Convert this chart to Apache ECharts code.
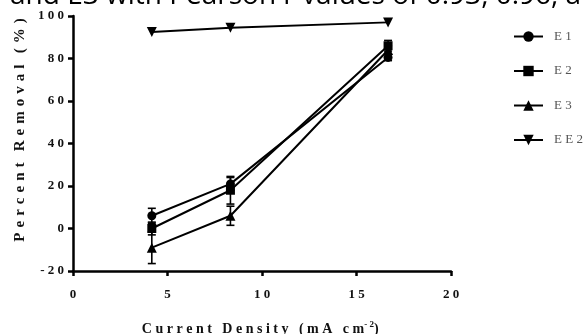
<!DOCTYPE html>
<html>
<head>
<meta charset="utf-8">
<script src="https://cdn.jsdelivr.net/npm/echarts@6/dist/echarts.min.js"></script>
<style>
  html, body { margin: 0; padding: 0; background: #fff; }
  #chart { width: 587px; height: 334px; }
</style>
</head>
<body>
<div id="chart"></div>
<script>
// current density (mA cm-2)
const xValues = [4.17, 8.33, 16.67];
// percent removal, mean and error
const e1 = [6, 21, 80.5];
const e1Err = [3.5, 3, 1.5];
const e2 = [0, 18, 86];
const e2Err = [3, 6.5, 2.5];
const e3 = [-9, 6, 84];
const e3Err = [7.5, 4.5, 2];
const ee2 = [92.5, 94.5, 97];
const seriesNames = ['E1', 'E2', 'E3', 'EE2'];
const xTicks = [0, 5, 10, 15, 20];
const yTicks = [-20, 0, 20, 40, 60, 80, 100];

const spaced = (s, gap = ' ') => String(s).split('').join(gap);
const serif = 'Liberation Serif';

function pts(vals) { return vals.map((v, i) => [xValues[i], v]); }
function errPts(vals, errs) { return vals.map((v, i) => [xValues[i], v - errs[i], v + errs[i]]); }

function errorBar(params, api) {
  const x = api.value(0);
  const lo = api.coord([x, api.value(1)]);
  const hi = api.coord([x, api.value(2)]);
  const w = 4;
  const style = { stroke: '#000', lineWidth: 1.6 };
  return {
    type: 'group',
    children: [
      { type: 'line', shape: { x1: lo[0], y1: lo[1], x2: hi[0], y2: hi[1] }, style },
      { type: 'line', shape: { x1: lo[0] - w, y1: lo[1], x2: lo[0] + w, y2: lo[1] }, style },
      { type: 'line', shape: { x1: hi[0] - w, y1: hi[1], x2: hi[0] + w, y2: hi[1] }, style },
    ],
  };
}

const lineBase = {
  type: 'line',
  color: '#000',
  lineStyle: { color: '#000', width: 2 },
  itemStyle: { color: '#000' },
  symbolSize: 9,
  z: 3,
};

const chart = echarts.init(document.getElementById('chart'));
chart.setOption({
  animation: false,
  graphic: [{
    type: 'text', left: 10, top: -18,
    style: {
      text: 'and E3 with Pearson r values of 0.93, 0.96, a',
      font: '28px "Open Sans"', fill: '#000',
    },
  }, {
    // y axis title, rotated
    type: 'text', x: 20, y: 130, rotation: Math.PI / 2,
    style: {
      text: spaced('Percent', ' \u200A') + '   ' + spaced('Removal', ' \u200A') + '   ' + spaced('(%)', ' \u200A'),
      font: 'bold 15px "Liberation Serif"', fill: '#111',
      align: 'center', verticalAlign: 'middle',
    },
  }],
  grid: { left: 73, right: 136, top: 16, bottom: 63, outerBoundsMode: 'none', containLabel: false },
  legend: {
    orient: 'vertical', left: 508, top: 25, itemGap: 21.5,
    itemWidth: 29, itemHeight: 13,
    data: seriesNames,
    formatter: n => spaced(n),
    textStyle: { fontFamily: serif, fontSize: 13, color: '#555', padding: [0, 0, 0, 6] },
  },
  xAxis: {
    type: 'value', min: 0, max: 20, interval: 5,
    name: 'C u r r e n t   D e n s i t y   ( m A   c m{sup|- 2}) ',
    nameLocation: 'middle', nameGap: 49,
    nameTextStyle: {
      fontFamily: serif, fontWeight: 'bold', fontSize: 14, color: '#111',
      rich: { sup: { fontFamily: serif, fontWeight: 'bold', fontSize: 9, padding: [0, 0, 10, 0] } },
    },
    axisLine: { onZero: false, lineStyle: { color: '#000', width: 2.5 } },
    axisTick: { length: 5, lineStyle: { color: '#000', width: 2.5 } },
    axisLabel: {
      margin: 17, fontFamily: serif, fontWeight: 'bold', fontSize: 13, color: '#111',
      formatter: v => xTicks.includes(v) ? spaced(v) : '',
    },
    splitLine: { show: false },
  },
  yAxis: {
    type: 'value', min: -20, max: 100, interval: 20,
    axisLine: { show: true, onZero: false, lineStyle: { color: '#000', width: 2.5 } },
    axisTick: { show: true, length: 5, lineStyle: { color: '#000', width: 2.5 } },
    axisLabel: {
      margin: 9, fontFamily: serif, fontWeight: 'bold', fontSize: 13, color: '#111',
      formatter: v => yTicks.includes(v) ? spaced(v) : '',
    },
    splitLine: { show: false },
  },
  series: [
    { ...lineBase, name: 'E1', symbol: 'circle', data: pts(e1) },
    { ...lineBase, name: 'E2', symbol: 'rect', data: pts(e2) },
    { ...lineBase, name: 'E3', symbol: 'triangle', symbolSize: 10, data: pts(e3) },
    { ...lineBase, name: 'EE2', symbol: 'triangle', symbolRotate: 180, symbolSize: 10, data: pts(ee2) },
    { type: 'custom', renderItem: errorBar, data: errPts(e1, e1Err), z: 2 },
    { type: 'custom', renderItem: errorBar, data: errPts(e2, e2Err), z: 2 },
    { type: 'custom', renderItem: errorBar, data: errPts(e3, e3Err), z: 2 },
  ],
});
</script>
</body>
</html>
